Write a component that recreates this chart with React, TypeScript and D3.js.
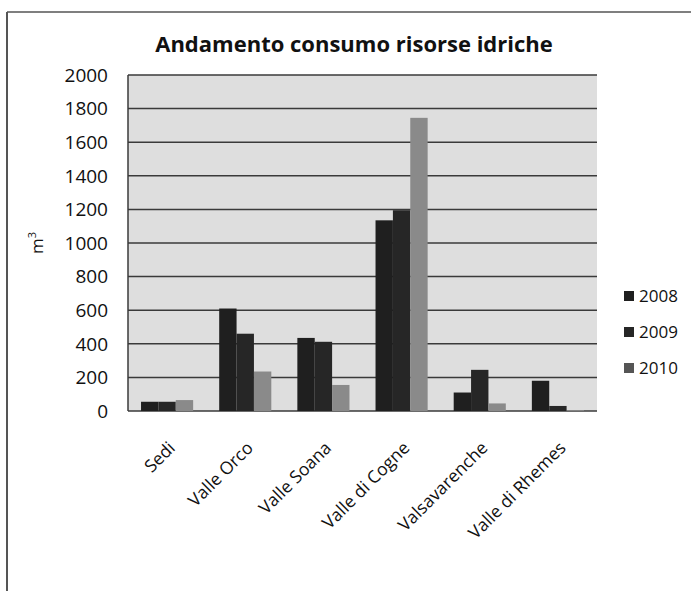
import React from "react";
import * as d3 from "d3";

const categories = ["Sedi", "Valle Orco", "Valle Soana", "Valle di Cogne", "Valsavarenche", "Valle di Rhemes"];
const years = ["2008", "2009", "2010"];
const values2008 = [55, 610, 435, 1135, 110, 180];
const values2009 = [55, 460, 412, 1195, 245, 30];
const values2010 = [65, 235, 155, 1745, 45, 5];
const yTicks = [0, 200, 400, 600, 800, 1000, 1200, 1400, 1600, 1800, 2000];
const colors = ["#1f1f1f", "#262626", "#8a8a8a"];

const W = 691, H = 591;
const plot = { left: 128, right: 597, top: 75, bottom: 411 };
const font = "'Open Sans', sans-serif";

export default function App() {
  const series = [values2008, values2009, values2010];
  const x0 = d3.scaleBand<string>().domain(categories).range([plot.left, plot.right]).paddingInner(0).paddingOuter(0);
  const bw = x0.bandwidth() / 4.5;
  const y = d3.scaleLinear().domain([0, 2000]).range([plot.bottom, plot.top]);

  return (
    <svg width={W} height={H} style={{ position: "absolute", left: 0, top: 0, background: "#fff" }}>
      <rect x={0} y={0} width={W} height={H} fill="#fff" />
      {/* chart frame */}
      <line x1={7} y1={12} x2={W} y2={12} stroke="#555" strokeWidth={1.5} />
      <line x1={7} y1={12} x2={7} y2={H} stroke="#555" strokeWidth={2} />
      <text x={354} y={52} textAnchor="middle" fontFamily={font} fontWeight={700} fontSize={22} fill="#111">
        Andamento consumo risorse idriche
      </text>
      {/* plot background */}
      <rect x={plot.left} y={plot.top} width={plot.right - plot.left} height={plot.bottom - plot.top} fill="#dedede" />
      {yTicks.map((t) => (
        <g key={t}>
          <line x1={plot.left} x2={plot.right} y1={y(t)} y2={y(t)} stroke="#3a3a3a" strokeWidth={1.5} />
          <text x={108} y={y(t)} dy="0.36em" textAnchor="end" fontFamily={font} fontSize={19} fill="#111">
            {t}
          </text>
        </g>
      ))}
      <line x1={plot.left} x2={plot.left} y1={plot.top} y2={plot.bottom} stroke="#3a3a3a" strokeWidth={1.5} />
      {/* bars */}
      {categories.map((c, i) =>
        series.map((s, j) => {
          const bx = (x0(c) as number) + 0.75 * bw + j * bw;
          return (
            <rect key={c + j} x={bx} y={y(s[i])} width={bw} height={plot.bottom - y(s[i])} fill={colors[j]} />
          );
        })
      )}
      {/* x labels */}
      {categories.map((c) => {
        const cx = (x0(c) as number) + x0.bandwidth() / 2 + 9;
        return (
          <text
            key={c}
            transform={`translate(${cx},${plot.bottom + 38}) rotate(-45)`}
            textAnchor="end"
            fontFamily={font}
            fontSize={17.5}
            fill="#111"
          >
            {c}
          </text>
        );
      })}
      {/* y axis title */}
      <text transform={`translate(43,243) rotate(-90)`} textAnchor="middle" fontFamily={font} fontSize={17} fill="#111">
        m<tspan dy="-7" fontSize={11}>3</tspan>
      </text>
      {/* legend */}
      {years.map((yr, j) => (
        <g key={yr} transform={`translate(624,${296 + j * 36})`}>
          <rect x={0} y={-5} width={10} height={10} fill={j === 2 ? "#555" : colors[j]} />
          <text x={15} y={0} dy="0.36em" fontFamily={font} fontSize={17} fill="#111">
            {yr}
          </text>
        </g>
      ))}
    </svg>
  );
}
